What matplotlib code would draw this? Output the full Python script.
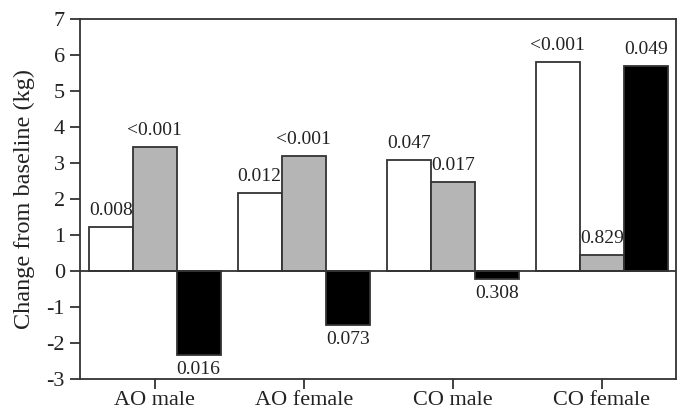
import matplotlib
matplotlib.use("Agg")
import matplotlib.pyplot as plt
import numpy as np

# groups along the x axis
GROUPS = ["AO male", "AO female", "CO male", "CO female"]

# change from baseline (kg), three bars per group
WHITE_VALS = [1.22, 2.17, 3.08, 5.8]
GRAY_VALS = [3.44, 3.2, 2.47, 0.44]
BLACK_VALS = [-2.33, -1.5, -0.22, 5.7]

# p values printed next to each bar
WHITE_P = ["0.008", "0.012", "0.047", "<0.001"]
GRAY_P = ["<0.001", "<0.001", "0.017", "0.829"]
BLACK_P = ["0.016", "0.073", "0.308", "0.049"]

plt.rcParams['font.family'] = ['Liberation Serif', 'DejaVu Serif']
plt.rcParams['axes.unicode_minus'] = False

fig = plt.figure(figsize=(6.79, 4.15), dpi=100)
ax = fig.add_axes([0.118, 0.087, 0.878, 0.867])

x = np.arange(len(GROUPS))
w = 0.295
edge = '#333333'

series = [(WHITE_VALS, WHITE_P, 'white', -w),
          (GRAY_VALS, GRAY_P, '#b5b5b5', 0),
          (BLACK_VALS, BLACK_P, 'black', w)]

for vals, pvals, col, off in series:
	bars = ax.bar(x + off, vals, w, color=col, edgecolor=edge, linewidth=1.3, zorder=2)
	for b, v, p in zip(bars, vals, pvals):
		cx = b.get_x() + b.get_width() / 2
		if v >= 0:
			ax.text(cx, v + 0.22, p, ha='center', va='bottom', fontsize=14, color='#222222', zorder=1)
		else:
			ax.text(cx, v - 0.18, p, ha='center', va='top', fontsize=14, color='#222222', zorder=3)

ax.axhline(0, color=edge, linewidth=1.3, zorder=3)

ax.set_xlim(-0.5, 3.5)
ax.set_ylim(-3, 7)
ax.set_yticks(range(-3, 8))
ax.set_xticks(x)
ax.set_xticklabels(GROUPS)
ax.tick_params(axis='both', direction='out', length=7, width=1.3, colors=edge, labelsize=16, labelcolor='#222222')
ax.tick_params(axis='x', pad=2)
ax.tick_params(axis='y', pad=4)
for s in ax.spines.values():
	s.set_linewidth(1.3)
	s.set_color(edge)

ax.set_ylabel("Change from baseline (kg)", fontsize=17.5, color='#222222', labelpad=8)

plt.savefig("out.png", dpi=100)
